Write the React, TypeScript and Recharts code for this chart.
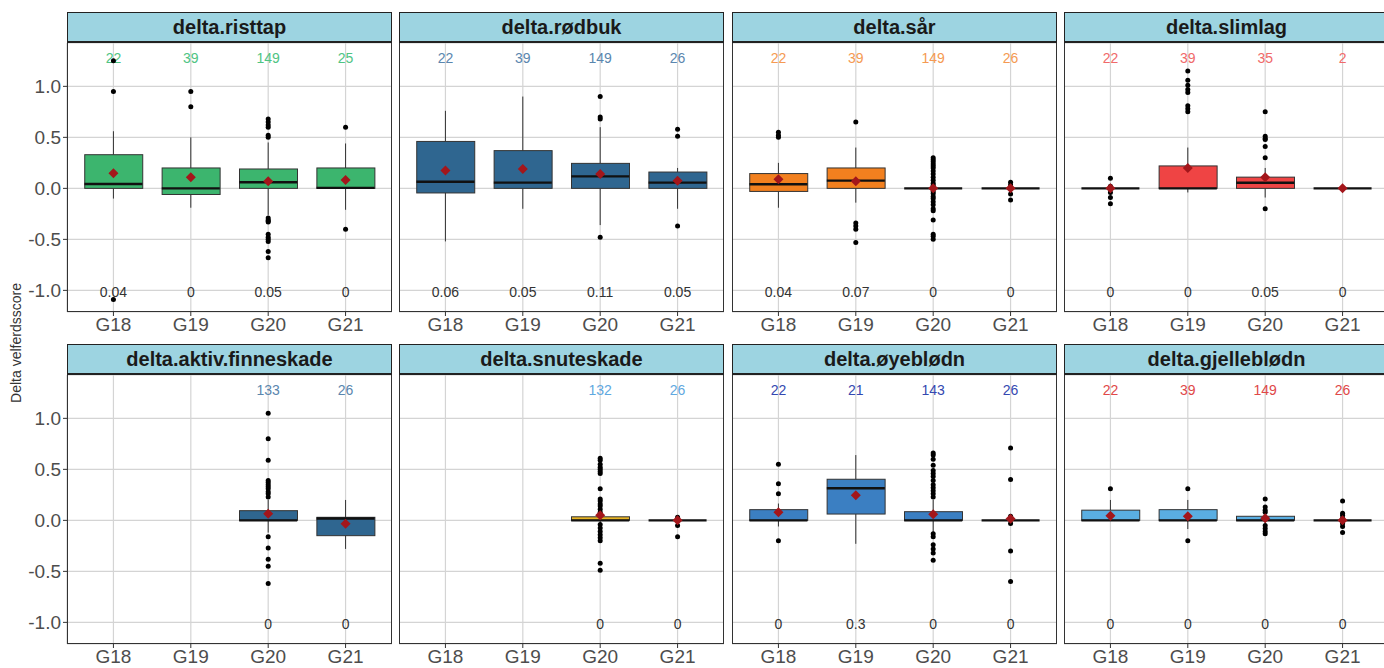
import React from "react";
import { ComposedChart, Bar, Scatter, ErrorBar, XAxis, YAxis, CartesianGrid } from "recharts";

const groups = ["G18", "G19", "G20", "G21"];
const yTicks = [-1, -0.5, 0, 0.5, 1];
const countLevel = 1.28;
const noteLevel = -1.015;
const yDomain: [number, number] = [-1.212, 1.425];

type Box = { q1: number; med: number; q3: number; lo: number; hi: number; mean: number } | null;

// delta.risttap
const risttapBoxes: Box[] = [
  { q1: 0, med: 0.043, q3: 0.33, lo: -0.1, hi: 0.56, mean: 0.147 },
  { q1: -0.06, med: 0.0, q3: 0.2, lo: -0.19, hi: 0.5, mean: 0.108 },
  { q1: 0, med: 0.06, q3: 0.19, lo: -0.26, hi: 0.45, mean: 0.07 },
  { q1: 0, med: 0.005, q3: 0.2, lo: -0.21, hi: 0.44, mean: 0.082 },
];
const risttapOutliers = [
  [1.25, 0.95, -1.09],
  [0.95, 0.8],
  [0.68, 0.65, 0.62, 0.6, 0.52, 0.5, -0.29, -0.31, -0.32, -0.33, -0.45, -0.48, -0.5, -0.52, -0.62, -0.68],
  [0.6, -0.4],
];
const risttapCounts = ["22", "39", "149", "25"];
const risttapNotes = ["0.04", "0", "0.05", "0"];

// delta.rødbuk
const rodbukBoxes: Box[] = [
  { q1: -0.045, med: 0.065, q3: 0.46, lo: -0.52, hi: 0.76, mean: 0.175 },
  { q1: 0, med: 0.056, q3: 0.37, lo: -0.2, hi: 0.9, mean: 0.19 },
  { q1: 0, med: 0.118, q3: 0.245, lo: -0.36, hi: 0.6, mean: 0.14 },
  { q1: 0, med: 0.056, q3: 0.16, lo: -0.2, hi: 0.2, mean: 0.075 },
];
const rodbukOutliers = [[], [], [0.9, 0.7, 0.68, -0.48], [0.58, 0.51, -0.37]];
const rodbukCounts = ["22", "39", "149", "26"];
const rodbukNotes = ["0.06", "0.05", "0.11", "0.05"];

// delta.sår
const sarBoxes: Box[] = [
  { q1: -0.03, med: 0.04, q3: 0.145, lo: -0.19, hi: 0.25, mean: 0.09 },
  { q1: 0, med: 0.076, q3: 0.2, lo: -0.14, hi: 0.4, mean: 0.07 },
  { q1: 0, med: 0, q3: 0, lo: 0, hi: 0, mean: 0.0 },
  { q1: 0, med: 0, q3: 0, lo: 0, hi: 0, mean: 0.0 },
];
const sarOutliers = [
  [0.55, 0.52, 0.5],
  [0.65, -0.34, -0.37, -0.4, -0.53],
  [0.3, 0.28, 0.26, 0.24, 0.22, 0.2, 0.17, 0.14, 0.11, 0.08, 0.05, 0.03, -0.03, -0.05, -0.08, -0.1, -0.13, -0.16, -0.2, -0.22, -0.31, -0.45, -0.47, -0.5],
  [0.06, 0.033, -0.056, -0.115],
];
const sarCounts = ["22", "39", "149", "26"];
const sarNotes = ["0.04", "0.07", "0", "0"];

// delta.slimlag
const slimlagBoxes: Box[] = [
  { q1: 0, med: 0, q3: 0, lo: 0, hi: 0, mean: 0.0 },
  { q1: 0, med: 0, q3: 0.22, lo: -0.04, hi: 0.4, mean: 0.2 },
  { q1: 0, med: 0.055, q3: 0.11, lo: -0.09, hi: 0.2, mean: 0.11 },
  { q1: 0, med: 0, q3: 0, lo: 0, hi: 0, mean: 0.0 },
];
const slimlagOutliers = [
  [0.1, 0.02, -0.04, -0.09, -0.15],
  [1.15, 1.06, 1.01, 0.97, 0.94, 0.81, 0.78, 0.75],
  [0.75, 0.51, 0.49, 0.48, 0.41, 0.3, -0.2],
  [],
];
const slimlagCounts = ["22", "39", "35", "2"];
const slimlagNotes = ["0", "0", "0.05", "0"];

// delta.aktiv.finneskade
const finneBoxes: Box[] = [
  null,
  null,
  { q1: 0, med: 0, q3: 0.095, lo: -0.12, hi: 0.2, mean: 0.066 },
  { q1: -0.15, med: 0.018, q3: 0.03, lo: -0.28, hi: 0.2, mean: -0.033 },
];
const finneOutliers = [
  [],
  [],
  [1.05, 0.8, 0.59, 0.39, 0.37, 0.35, 0.33, 0.31, 0.28, 0.26, 0.23, -0.16, -0.27, -0.38, -0.45, -0.62],
  [],
];
const finneCounts = ["", "", "133", "26"];
const finneNotes = ["", "", "0", "0"];

// delta.snuteskade
const snuteBoxes: Box[] = [
  null,
  null,
  { q1: 0, med: 0, q3: 0.035, lo: -0.03, hi: 0.07, mean: 0.05 },
  { q1: 0, med: 0, q3: 0, lo: 0, hi: 0, mean: 0.0 },
];
const snuteOutliers = [
  [],
  [],
  [0.61, 0.59, 0.55, 0.52, 0.5, 0.48, 0.46, 0.31, 0.21, 0.19, 0.16, 0.14, 0.11, 0.08, -0.04, -0.075, -0.11, -0.14, -0.17, -0.2, -0.42, -0.49],
  [0.03, -0.05, -0.16],
];
const snuteCounts = ["", "", "132", "26"];
const snuteNotes = ["", "", "0", "0"];

// delta.øyeblødn
const oyeBoxes: Box[] = [
  { q1: 0, med: 0, q3: 0.105, lo: -0.06, hi: 0.165, mean: 0.08 },
  { q1: 0.062, med: 0.315, q3: 0.403, lo: -0.23, hi: 0.64, mean: 0.246 },
  { q1: 0, med: 0, q3: 0.085, lo: -0.12, hi: 0.2, mean: 0.06 },
  { q1: 0, med: 0, q3: 0, lo: 0, hi: 0, mean: 0.015 },
];
const oyeOutliers = [
  [0.55, 0.36, 0.26, -0.2],
  [],
  [0.66, 0.64, 0.6, 0.54, 0.49, 0.46, 0.43, 0.39, 0.35, 0.32, 0.29, 0.26, 0.23, -0.13, -0.16, -0.24, -0.28, -0.32, -0.39],
  [0.71, 0.4, 0.04, -0.03, -0.3, -0.6],
];
const oyeCounts = ["22", "21", "143", "26"];
const oyeNotes = ["0", "0.3", "0", "0"];

// delta.gjelleblødn
const gjelleBoxes: Box[] = [
  { q1: 0, med: 0, q3: 0.1, lo: 0, hi: 0.2, mean: 0.046 },
  { q1: 0, med: 0, q3: 0.105, lo: -0.085, hi: 0.2, mean: 0.04 },
  { q1: 0, med: 0, q3: 0.04, lo: -0.03, hi: 0.07, mean: 0.02 },
  { q1: 0, med: 0, q3: 0, lo: 0, hi: 0, mean: 0.0 },
];
const gjelleOutliers = [
  [0.31],
  [0.31, -0.2],
  [0.21, 0.13, 0.1, 0.08, -0.05, -0.08, -0.11, -0.13],
  [0.19, 0.07, 0.05, 0.02, -0.03, -0.06, -0.12],
];
const gjelleCounts = ["22", "39", "149", "26"];
const gjelleNotes = ["0", "0", "0", "0"];

const panels = [
  { title: "delta.risttap", boxes: risttapBoxes, outliers: risttapOutliers, counts: risttapCounts, notes: risttapNotes, fill: "#3CB56E", countColor: "#4FC483" },
  { title: "delta.rødbuk", boxes: rodbukBoxes, outliers: rodbukOutliers, counts: rodbukCounts, notes: rodbukNotes, fill: "#2F6690", countColor: "#5A86AE" },
  { title: "delta.sår", boxes: sarBoxes, outliers: sarOutliers, counts: sarCounts, notes: sarNotes, fill: "#F2801F", countColor: "#F59A52" },
  { title: "delta.slimlag", boxes: slimlagBoxes, outliers: slimlagOutliers, counts: slimlagCounts, notes: slimlagNotes, fill: "#EF4444", countColor: "#F06A6A" },
  { title: "delta.aktiv.finneskade", boxes: finneBoxes, outliers: finneOutliers, counts: finneCounts, notes: finneNotes, fill: "#2F6690", countColor: "#5A86AE" },
  { title: "delta.snuteskade", boxes: snuteBoxes, outliers: snuteOutliers, counts: snuteCounts, notes: snuteNotes, fill: "#E8B424", countColor: "#5FA8E0" },
  { title: "delta.øyeblødn", boxes: oyeBoxes, outliers: oyeOutliers, counts: oyeCounts, notes: oyeNotes, fill: "#3B7FC2", countColor: "#3448B0" },
  { title: "delta.gjelleblødn", boxes: gjelleBoxes, outliers: gjelleOutliers, counts: gjelleCounts, notes: gjelleNotes, fill: "#5AAEE2", countColor: "#E04848" },
];

const FONT = '"Liberation Sans", Arial, sans-serif';
const PLOT_LEFT = [67, 399, 732, 1064];
const PLOT_W = 325;
const STRIP_TOP = [12, 344];
const STRIP_H = 31;
const PLOT_H = 269;
const AXIS_H = 30;
const YAXIS_W = 67;
const BOX_W = 58;

function BoxShape(props: any) {
  const { x, y, width, height, fill } = props;
  if (x == null || y == null || isNaN(y) || isNaN(height)) return null;
  const top = Math.min(y, y + height);
  return <rect x={x} y={top} width={width} height={Math.abs(height)} fill={fill} stroke="#333" strokeWidth={1} />;
}

const MedianShape = (p: any) => (
  <line x1={p.cx - BOX_W / 2} x2={p.cx + BOX_W / 2} y1={p.cy} y2={p.cy} stroke="#111" strokeWidth={2.4} />
);
const OutlierShape = (p: any) => <circle cx={p.cx} cy={p.cy} r={2.5} fill="#000" />;
const MeanShape = (p: any) => (
  <path d={`M${p.cx},${p.cy - 5} L${p.cx + 5},${p.cy} L${p.cx},${p.cy + 5} L${p.cx - 5},${p.cy} Z`} fill="#A3161B" />
);
const EmptyShape = () => <g />;
const makeTextShape = (color: string) => (p: any) => (
  <text x={p.cx} y={p.cy} textAnchor="middle" dominantBaseline="central" fontSize={14} fill={color} fontFamily={FONT}>
    {p.payload.t}
  </text>
);

function Panel({ panel, idx }: { panel: (typeof panels)[number]; idx: number }) {
  const col = idx % 4;
  const row = Math.floor(idx / 4);
  const plotTop = STRIP_TOP[row] + STRIP_H;
  const chartLeft = col === 0 ? PLOT_LEFT[0] - YAXIS_W : PLOT_LEFT[col];
  const chartW = col === 0 ? YAXIS_W + PLOT_W : PLOT_W;

  const barData = groups.map((g, i) => {
    const b = panel.boxes[i];
    return { x: i + 1, box: b ? [b.q1, b.q3] : null };
  });
  const medData: any[] = [];
  const meanData: any[] = [];
  const upperW: any[] = [];
  const lowerW: any[] = [];
  const outData: any[] = [];
  const countData: any[] = [];
  const noteData: any[] = [];
  groups.forEach((g, i) => {
    const b = panel.boxes[i];
    if (b) {
      medData.push({ x: i + 1, y: b.med });
      meanData.push({ x: i + 1, y: b.mean });
      if (b.hi > b.q3) upperW.push({ x: i + 1, y: b.q3, err: [0, b.hi - b.q3] });
      if (b.lo < b.q1) lowerW.push({ x: i + 1, y: b.q1, err: [b.q1 - b.lo, 0] });
    }
    panel.outliers[i].forEach((v) => outData.push({ x: i + 1, y: v }));
    if (panel.counts[i]) countData.push({ x: i + 1, y: countLevel, t: panel.counts[i] });
    if (panel.notes[i]) noteData.push({ x: i + 1, y: noteLevel, t: panel.notes[i] });
  });

  return (
    <>
      <div
        style={{
          position: "absolute",
          left: PLOT_LEFT[col],
          top: STRIP_TOP[row],
          width: PLOT_W,
          height: STRIP_H,
          boxSizing: "border-box",
          background: "#9DD4E1",
          border: "1.5px solid #222",
          borderBottomWidth: 2,
          display: "flex",
          alignItems: "center",
          justifyContent: "center",
          fontFamily: FONT,
          fontWeight: "bold",
          fontSize: 20,
          color: "#1a1a1a",
        }}
      >
        {panel.title}
      </div>
      <div style={{ position: "absolute", left: chartLeft, top: plotTop }}>
        <ComposedChart
          width={chartW}
          height={PLOT_H + AXIS_H}
          data={barData}
          margin={{ top: 0, right: 0, bottom: 0, left: 0 }}
          style={{ fontFamily: FONT }}
        >
          <CartesianGrid stroke="#d4d4d4" strokeWidth={1.2} />
          <XAxis
            type="number"
            dataKey="x"
            domain={[0.4, 4.6]}
            allowDataOverflow
            ticks={[1, 2, 3, 4]}
            interval={0}
            tickFormatter={(v: number) => groups[v - 1]}
            height={AXIS_H}
            axisLine={false}
            tickSize={4}
            tickLine={{ stroke: "#333" }}
            tick={{ fontSize: 19, fill: "#4d4d4d", fontFamily: FONT }}
          />
          {col === 0 ? (
            <YAxis
              type="number"
              domain={yDomain}
              allowDataOverflow
              ticks={yTicks}
              interval={0}
              tickFormatter={(v: number) => v.toFixed(1)}
              width={YAXIS_W}
              axisLine={false}
              tickSize={4}
              tickLine={{ stroke: "#333" }}
              tick={{ fontSize: 19, fill: "#4d4d4d", fontFamily: FONT }}
            />
          ) : (
            <YAxis type="number" domain={yDomain} allowDataOverflow ticks={yTicks} interval={0} hide />
          )}
          <Bar dataKey="box" barSize={BOX_W} fill={panel.fill} shape={BoxShape} isAnimationActive={false} />
          <Scatter data={upperW} dataKey="y" shape={EmptyShape} isAnimationActive={false}>
            <ErrorBar dataKey="err" direction="y" width={0} stroke="#333" strokeWidth={1} isAnimationActive={false} />
          </Scatter>
          <Scatter data={lowerW} dataKey="y" shape={EmptyShape} isAnimationActive={false}>
            <ErrorBar dataKey="err" direction="y" width={0} stroke="#333" strokeWidth={1} isAnimationActive={false} />
          </Scatter>
          <Scatter data={medData} dataKey="y" shape={MedianShape} isAnimationActive={false} />
          <Scatter data={countData} dataKey="y" shape={makeTextShape(panel.countColor)} isAnimationActive={false} />
          <Scatter data={noteData} dataKey="y" shape={makeTextShape("#333")} isAnimationActive={false} />
          <Scatter data={outData} dataKey="y" shape={OutlierShape} isAnimationActive={false} />
          <Scatter data={meanData} dataKey="y" shape={MeanShape} isAnimationActive={false} />
        </ComposedChart>
      </div>
      <div
        style={{
          position: "absolute",
          left: PLOT_LEFT[col],
          top: plotTop,
          width: PLOT_W,
          height: PLOT_H,
          boxSizing: "border-box",
          border: "1.3px solid #333",
          borderTop: "none",
          pointerEvents: "none",
        }}
      />
    </>
  );
}

export default function App() {
  return (
    <div style={{ position: "absolute", left: 0, top: 0, width: 1384, height: 668, overflow: "hidden", background: "#fff", fontFamily: FONT }}>
      {panels.map((p, i) => (
        <Panel key={p.title} panel={p} idx={i} />
      ))}
      <div
        style={{
          position: "absolute",
          left: 16,
          top: 343,
          transform: "translate(-50%, -50%) rotate(-90deg)",
          fontSize: 14,
          color: "#333",
          whiteSpace: "nowrap",
          fontFamily: FONT,
        }}
      >
        Delta velferdsscore
      </div>
    </div>
  );
}
